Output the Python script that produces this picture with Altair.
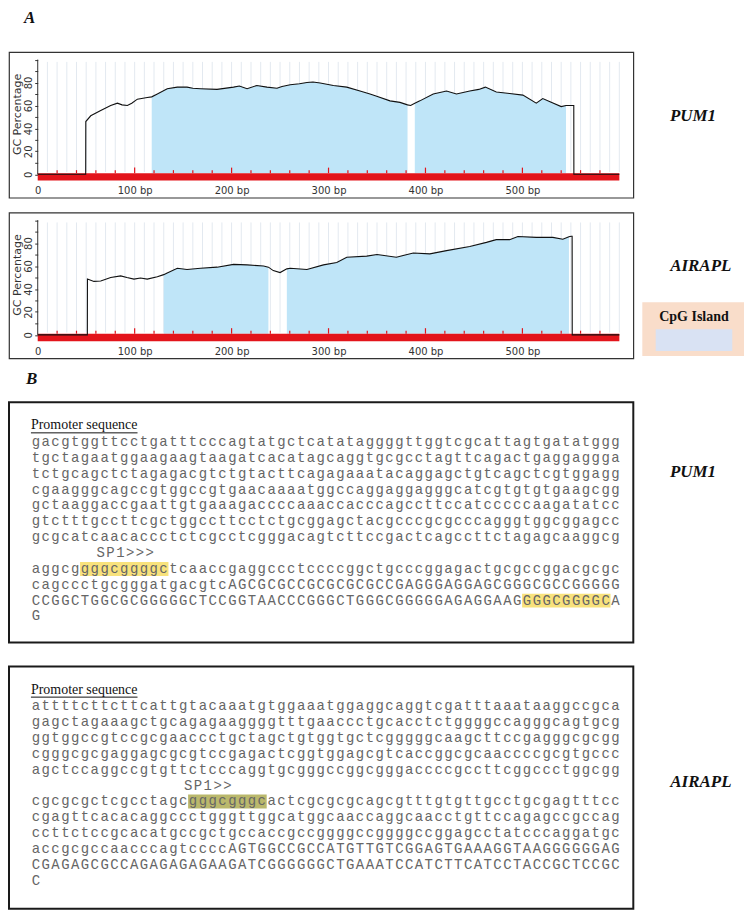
import altair as alt
import pandas as pd

# ---------------- data ----------------
# GC profile of the PUM1 promoter (bp, GC %)
PUM1_BP = [0, 49.5, 49.6, 54.7, 65, 75.3, 82.2, 87, 92.5, 97, 102.8, 113, 117.6, 123.4, 133.6, 144,
           154, 160, 168, 185, 202, 208, 216, 226, 236.5, 246.8, 252, 260.5, 270, 277.7, 284, 291.4,
           305, 318.8, 332.5, 342.8, 349.7, 363.4, 373.7, 381.5, 384.7, 389, 394.2, 408, 421.7, 432,
           445.7, 455, 461.8, 473.1, 486.8, 500.5, 514.3, 521, 529.7, 540, 545, 553, 553.1, 600]
PUM1_GC = [0, 0, 46, 51, 55.6, 60, 62, 60.5, 60, 62, 65.5, 67, 67.5, 70, 74.6, 76,
           76, 75, 74.6, 74, 76, 77, 74.6, 77.4, 76, 75, 76.5, 78, 79, 80, 80.5, 79.6,
           77.4, 76, 72.6, 70, 68, 64, 62.7, 60.5, 60, 62, 64, 70, 72.6, 70,
           72.6, 74, 76, 71.8, 70.4, 69, 62, 66, 62.7, 59, 60, 60, 0, 0]

# GC profile of the AIRAPL promoter (bp, GC %)
AIRAPL_BP = [0, 51.2, 51.3, 58, 65, 75.3, 85.6, 92, 99.3, 106, 113, 123.4, 130, 133.6, 144, 154,
             168, 185, 202, 216, 233, 238, 243, 250, 257, 260.5, 277.7, 294.8, 308.5, 318.8, 339.4,
             350, 370, 387.4, 404.5, 421.7, 445.7, 462.9, 473, 486.8, 495.4, 514.3, 531.4, 541.7,
             548, 550.3, 551.3, 551.4, 600]
AIRAPL_GC = [0, 0, 48.6, 46.6, 47, 50, 51.4, 50, 48.6, 49.5, 48.6, 50.6, 52.5, 54, 58, 57,
             58, 59, 61.4, 61, 60, 59, 56, 54.3, 57.5, 58, 57, 61, 63, 67.7, 68.6,
             70, 67.7, 71.4, 70.6, 73.4, 77, 80.6, 83, 83, 85.7, 85, 85, 83.4,
             85.5, 86, 86, 0, 0]

# CpG island ranges (bp)
PUM1_ISLANDS = [[117.6, 381.5], [389.0, 545.0]]
AIRAPL_ISLANDS = [[130.0, 238.0], [257.0, 548.0]]

# axis / tick values
BP_LABEL_TICKS = [0, 100, 200, 300, 400, 500]
BP_RED_TICKS = [20, 40, 60, 80, 100, 120, 140, 160, 180, 200, 220, 240, 260, 280, 300,
                320, 340, 360, 380, 400, 420, 440, 460, 480, 500, 520, 540, 560, 580]
GRID_BP = [10, 20, 30, 40, 50, 60, 70, 80, 90, 100, 110, 120, 130, 140, 150, 160, 170, 180,
           190, 200, 210, 220, 230, 240, 250, 260, 270, 280, 290, 300, 310, 320, 330, 340,
           350, 360, 370, 380, 390, 400, 410, 420, 430, 440, 450, 460, 470, 480, 490, 500,
           510, 520, 530, 540, 550, 560, 570, 580, 590, 600]
GC_TICKS = [0, 10, 20, 30, 40, 50, 60, 70, 80, 90, 100]

GENES = ["PUM1", "AIRAPL"]
LEGEND_TITLE = "CpG Island"

# promoter sequences (one entry per printed line)
PUM1_SEQ = [
    "gacgtggttcctgatttcccagtatgctcatataggggttggtcgcattagtgatatggg",
    "tgctagaatggaagaagtaagatcacatagcaggtgcgcctagttcagactgaggaggga",
    "tctgcagctctagagacgtctgtacttcagagaaatacaggagctgtcagctcgtggagg",
    "cgaagggcagccgtggccgtgaacaaaatggccaggaggagggcatcgtgtgtgaagcgg",
    "gctaaggaccgaattgtgaaagaccccaaaccacccagccttccatcccccaagatatcc",
    "gtctttgccttcgctggccttcctctgcggagctacgcccgcgcccagggtggcggagcc",
    "gcgcatcaacaccctctcgcctcgggacagtcttccgactcagccttctagagcaaggcg",
    "aggcggggcggggctcaaccgaggccctccccggctgcccggagactgcgccggacgcgc",
    "cagccctgcgggatgacgtcAGCGCGCCGCGCGCGCCGAGGGAGGAGCGGGCGCCGGGGG",
    "CCGGCTGGCGCGGGGGCTCCGGTAACCCGGGCTGGGCGGGGGAGAGGAAGGGGCGGGGCA",
    "G",
]
AIRAPL_SEQ = [
    "attttcttcttcattgtacaaatgtggaaatggaggcaggtcgatttaaataaggccgca",
    "gagctagaaagctgcagagaaggggtttgaaccctgcacctctggggccagggcagtgcg",
    "ggtggccgtccgcgaaccctgctagctgtggtgctcgggggcaagcttccgagggcgcgg",
    "cgggcgcgaggagcgcgtccgagactcggtggagcgtcaccggcgcaaccccgcgtgccc",
    "agctccaggccgtgttctcccaggtgcgggccggcgggaccccgccttcggccctggcgg",
    "cgcgcgctcgcctagcgggcgggcactcgcgcgcagcgtttgtgttgcctgcgagtttcc",
    "cgagttcacacaggccctgggttggcatggcaaccaggcaacctgttccagagccgccag",
    "ccttctccgcacatgccgctgccaccgccggggccggggccggagcctatcccaggatgc",
    "accgcgccaacccagtccccAGTGGCCGCCATGTTGTCGGAGTGAAAGGTAAGGGGGGAG",
    "CGAGAGCGCCAGAGAGAGAAGATCGGGGGGCTGAAATCCATCTTCATCCTACCGCTCCGC",
    "C",
]
# SP1 sites: [row, first char, number of chars]
PUM1_SP1 = [[8, 5, 9], [10, 50, 9]]
AIRAPL_SP1 = [[6, 16, 8]]

# ---------------- layout ----------------
W = 626
PANEL_H = 146
BP0_PX = 28.8
PX_PER_BP = 0.972
GC0_PX = 122.5
PX_PER_GC = 1.15

CH0_PX = 22
PX_PER_CH = 9.85
ROW0_PX = 40
PX_PER_ROW = 15.9

SERIF = "Liberation Serif"
MONO = "Liberation Mono"
SANS = "DejaVu Sans"
SEQ_COLOR = "#666666"


def bp_scale():
    return alt.Scale(domain=[-BP0_PX / PX_PER_BP, (W - BP0_PX) / PX_PER_BP], nice=False, zero=False)


def gc_scale():
    return alt.Scale(domain=[-(PANEL_H - GC0_PX) / PX_PER_GC, GC0_PX / PX_PER_GC], nice=False, zero=False)


X_AXIS = alt.Axis(
    values=BP_LABEL_TICKS,
    labelExpr="datum.value == 0 ? '0' : datum.value + ' bp'",
    domain=False, ticks=False, tickSize=0, grid=False, labelPadding=0,
    offset=-12, title=None, labelFont=SANS, labelFontSize=10,
    labelColor="#333333", labelOverlap=False, labelFlush=False,
)
Y_AXIS = alt.Axis(
    values=GC_TICKS,
    labelExpr="datum.value % 20 == 0 && datum.value < 100 ? datum.label : ''",
    labelAngle=-90, domain=False, ticks=True, tickSize=3, tickColor="#333333",
    grid=False, labelPadding=1, offset=-BP0_PX, title="GC Percentage",
    titleAngle=-90, titleX=-20, titleY=62, titleBaseline="middle", titleAlign="center",
    titleFont=SANS, titleFontSize=11, titleFontWeight="normal", titleColor="#333333",
    labelFont=SANS, labelFontSize=10, labelColor="#333333",
    labelOverlap=False, labelFlush=False,
)


def gc_panel(bps, gcs, islands, gene, gene_at, legend=False):
    xs, ys = bp_scale(), gc_scale()
    prof = pd.DataFrame({"bp": bps, "gc": gcs})
    isl_rows = []
    for k, (s, e) in enumerate(islands):
        for b, g in zip(bps, gcs):
            if s <= b <= e:
                isl_rows.append({"bp": b, "gc": g, "base": 1.0, "island": k})
    isl = pd.DataFrame(isl_rows)

    X = lambda f: alt.X(f, scale=xs, axis=X_AXIS)
    Y = lambda f: alt.Y(f, scale=ys, axis=Y_AXIS)

    grid = alt.Chart(pd.DataFrame({"bp": GRID_BP, "lo": 2.0, "hi": 98.0})).mark_rule(
        color="#e3e9f0", strokeWidth=1
    ).encode(x=X("bp:Q"), y=Y("lo:Q"), y2="hi:Q")

    area = alt.Chart(isl).mark_area(color="#bfe5f8", opacity=1, interpolate="linear").encode(
        x=X("bp:Q"), y=Y("gc:Q"), y2="base:Q", detail="island:N"
    )

    red = alt.Chart(pd.DataFrame({"x0": [0.0], "x1": [600.0], "y0": [-5.5], "y1": [1.0]})).mark_rect(
        color="#e3141b"
    ).encode(x=X("x0:Q"), x2="x1:Q", y=Y("y0:Q"), y2="y1:Q")

    ticks_df = pd.DataFrame({"bp": BP_RED_TICKS})
    ticks_df["lo"] = 1.0
    ticks_df["hi"] = [5.8 if b % 100 == 0 else 3.6 for b in BP_RED_TICKS]
    red_ticks = alt.Chart(ticks_df).mark_rule(color="#e3141b", strokeWidth=1.2).encode(
        x=X("bp:Q"), y=Y("lo:Q"), y2="hi:Q"
    )

    line = alt.Chart(prof).mark_line(color="#111111", strokeWidth=1.1, interpolate="linear").encode(
        x=X("bp:Q"), y=Y("gc:Q"), order="bp:Q"
    )

    axis_line = alt.Chart(pd.DataFrame({"bp": [0.0], "lo": [0.0], "hi": [100.0]})).mark_rule(
        color="#333333", strokeWidth=1
    ).encode(x=X("bp:Q"), y=Y("lo:Q"), y2="hi:Q")

    gene_lbl = alt.Chart(pd.DataFrame({"bp": [gene_at[0]], "gc": [gene_at[1]], "t": [gene]})).mark_text(
        font=SERIF, fontSize=17, fontWeight="bold", fontStyle="italic", color="#111111",
        align="center", baseline="middle",
    ).encode(x=X("bp:Q"), y=Y("gc:Q"), text="t:N")

    layers = [grid, area, red, red_ticks, line, axis_line, gene_lbl]

    if legend:
        box = alt.Chart(pd.DataFrame({"x0": [623.7], "x1": [728.6], "y0": [-18.4], "y1": [28.5]})).mark_rect(
            color="#f9ddca"
        ).encode(x=X("x0:Q"), x2="x1:Q", y=Y("y0:Q"), y2="y1:Q")
        swatch = alt.Chart(pd.DataFrame({"x0": [637.5], "x1": [716.5], "y0": [-14.1], "y1": [4.8]})).mark_rect(
            color="#d9e2f3"
        ).encode(x=X("x0:Q"), x2="x1:Q", y=Y("y0:Q"), y2="y1:Q")
        ltxt = alt.Chart(pd.DataFrame({"bp": [677.0], "gc": [15.5], "t": [LEGEND_TITLE]})).mark_text(
            font=SERIF, fontSize=14, fontWeight="bold", color="#111111", align="center", baseline="middle"
        ).encode(x=X("bp:Q"), y=Y("gc:Q"), text="t:N")
        layers += [box, swatch, ltxt]

    return alt.layer(*layers).properties(
        width=W, height=PANEL_H, view=alt.ViewBackground(stroke="#333333", strokeWidth=1.2)
    )


def explode(strings, rows, starts):
    recs = []
    for s, r, c0 in zip(strings, rows, starts):
        for i, ch in enumerate(s):
            recs.append({"row": r, "col": c0 + i + 0.5, "ch": ch})
    return pd.DataFrame(recs)


def seq_panel(lines, sp1_row, sp1_col, sp1_text, sites, site_color, gene, gene_at, height):
    xs = alt.Scale(domain=[-CH0_PX / PX_PER_CH, (W - CH0_PX) / PX_PER_CH], nice=False, zero=False)
    ys = alt.Scale(domain=[-ROW0_PX / PX_PER_ROW, (height - ROW0_PX) / PX_PER_ROW],
                   nice=False, zero=False, reverse=True)
    X = lambda f: alt.X(f, scale=xs, axis=None)
    Y = lambda f: alt.Y(f, scale=ys, axis=None)

    rows = [r for r in range(len(lines) + 1) if r != sp1_row]
    chars = explode(lines + [sp1_text], rows + [sp1_row], [0.0] * len(lines) + [sp1_col])

    hl = pd.DataFrame(sites, columns=["row", "c0", "n"])
    hl["c1"] = hl["c0"] + hl["n"]
    hl["y0"] = hl["row"] - 0.44
    hl["y1"] = hl["row"] + 0.44

    hl_layer = alt.Chart(hl).mark_rect(color=site_color).encode(
        x=X("c0:Q"), x2="c1:Q", y=Y("y0:Q"), y2="y1:Q"
    )
    seq_layer = alt.Chart(chars).mark_text(
        font=MONO, fontSize=14, color=SEQ_COLOR, align="center", baseline="middle"
    ).encode(x=X("col:Q"), y=Y("row:Q"), text="ch:N")

    prom = alt.Chart(pd.DataFrame({"row": [-1.05], "col": [0.0], "t": ["Promoter sequence"]})).mark_text(
        font=SERIF, fontSize=14, color="#111111", align="left", baseline="middle"
    ).encode(x=X("col:Q"), y=Y("row:Q"), text="t:N")
    underline = alt.Chart(pd.DataFrame({"c0": [0.0], "c1": [10.85], "row": [-0.58]})).mark_rule(
        color="#111111", strokeWidth=1
    ).encode(x=X("c0:Q"), x2="c1:Q", y=Y("row:Q"))

    gene_lbl = alt.Chart(pd.DataFrame({"col": [gene_at[0]], "row": [gene_at[1]], "t": [gene]})).mark_text(
        font=SERIF, fontSize=17, fontWeight="bold", fontStyle="italic", color="#111111",
        align="center", baseline="middle",
    ).encode(x=X("col:Q"), y=Y("row:Q"), text="t:N")

    return alt.layer(hl_layer, seq_layer, prom, underline, gene_lbl).properties(
        width=W, height=height, view=alt.ViewBackground(stroke="#1a1a1a", strokeWidth=2)
    )


def letter_row(letter, h, x, y, baseline):
    return alt.Chart(pd.DataFrame({"t": [letter]})).mark_text(
        font=SERIF, fontSize=17, fontWeight="bold", fontStyle="italic", color="#111111",
        align="left", baseline=baseline,
    ).encode(x=alt.value(x), y=alt.value(y), text="t:N").properties(width=W, height=h)


def spacer(h):
    return alt.Chart(pd.DataFrame({"t": [" "]})).mark_text(baseline="top", fontSize=1).encode(
        x=alt.value(1), y=alt.value(1), text="t:N"
    ).properties(width=W, height=h)


p1 = gc_panel(PUM1_BP, PUM1_GC, PUM1_ISLANDS, GENES[0], (676, 50.9))
p2 = gc_panel(AIRAPL_BP, AIRAPL_GC, AIRAPL_ISLANDS, GENES[1], (684, 59.8), legend=True)
b1 = seq_panel(PUM1_SEQ, 7, 6.6, "SP1>>>", PUM1_SP1, "#f8e27c", GENES[0], (67.4, 1.9), 241)
b2 = seq_panel(AIRAPL_SEQ, 5, 15.5, "SP1>>", AIRAPL_SP1, "#bab86c", GENES[1], (68.2, 4.8), 243)

chart = alt.vconcat(
    letter_row("A", 43, 15, 1, "top"),
    p1,
    spacer(15),
    p2,
    letter_row("B", 44, 17, 21, "middle"),
    b1,
    spacer(24),
    b2,
    spacing=0,
    bounds="flush",
).properties(padding=0).configure_view(stroke=None)

chart.save("out.html", embed_options={"renderer": "svg", "actions": False})
